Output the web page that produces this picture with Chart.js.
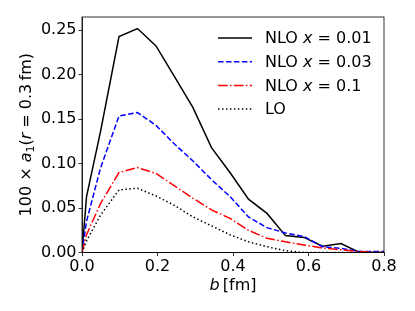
<!DOCTYPE html>
<html><head><meta charset="utf-8">
<style>html,body{margin:0;padding:0;background:#fff}canvas{display:block}</style>
<script src="https://cdn.jsdelivr.net/npm/chart.js@4/dist/chart.umd.min.js"></script>
</head><body>
<canvas id="c" width="415" height="311"></canvas>
<script>
// b [fm] values
const bValues = [0, 0.012, 0.049, 0.098, 0.147, 0.196, 0.245, 0.294, 0.343, 0.392, 0.441, 0.490, 0.539, 0.588, 0.637, 0.686, 0.735, 0.784, 0.833];
const nloX001 = [0, 0.063, 0.136, 0.243, 0.252, 0.2325, 0.198, 0.163, 0.118, 0.090, 0.060, 0.044, 0.019, 0.017, 0.007, 0.010, 0.000, 0.000, 0.000];
const nloX003 = [0, 0.035, 0.095, 0.1535, 0.1575, 0.143, 0.122, 0.103, 0.082, 0.063, 0.040, 0.028, 0.022, 0.018, 0.0065, 0.0047, 0.001, 0.001, 0.001];
const nloX01  = [0, 0.020, 0.055, 0.090, 0.0955, 0.089, 0.075, 0.061, 0.048, 0.0385, 0.025, 0.016, 0.012, 0.0085, 0.005, 0.003, 0.001, 0.000, 0.000];
const loVals  = [0, 0.013, 0.042, 0.0705, 0.0723, 0.0636, 0.053, 0.040, 0.030, 0.020, 0.012, 0.0065, 0.002, 0.000, 0.000, 0.000, 0.000, 0.000, 0.000];
const xTicks = [0, 0.2, 0.4, 0.6, 0.8];
const yTicks = [0, 0.05, 0.10, 0.15, 0.20, 0.25];

const seriesLabels = [
  [{t:'NLO '},{t:'x',i:true},{t:' = 0.01'}],
  [{t:'NLO '},{t:'x',i:true},{t:' = 0.03'}],
  [{t:'NLO '},{t:'x',i:true},{t:' = 0.1'}],
  [{t:'LO'}]
];
const styles = [
  {color:'#000000', dash:[]},
  {color:'#0000ff', dash:[5.55,2.4]},
  {color:'#ff0000', dash:[9.6,2.4,1.5,2.4]},
  {color:'#000000', dash:[1.5,2.475]}
];
const allSeries = [nloX001, nloX003, nloX01, loVals];

const FONT = 'DejaVu Sans';
const FS = 16;

function drawRuns(ctx, runs, x, y, align) {
  const widths = runs.map(r => {
    ctx.font = (r.i ? 'italic ' : '') + (r.sub ? 11 : FS) + 'px "' + FONT + '"';
    return ctx.measureText(r.t).width;
  });
  const total = widths.reduce((a,b)=>a+b,0);
  let cx = align === 'center' ? x - total/2 : x;
  runs.forEach((r, k) => {
    ctx.font = (r.i ? 'italic ' : '') + (r.sub ? 11 : FS) + 'px "' + FONT + '"';
    ctx.fillText(r.t, cx, y + (r.sub ? 4 : 0));
    cx += widths[k];
  });
}

const decor = {
  id: 'decor',
  afterDraw(chart) {
    const ctx = chart.ctx, a = chart.chartArea;
    ctx.save();
    ctx.strokeStyle = '#000'; ctx.lineWidth = 0.8; ctx.setLineDash([]);
    ctx.strokeRect(a.left, a.top, a.right - a.left, a.bottom - a.top);
    ctx.fillStyle = '#000';
    ctx.textBaseline = 'middle';
    ctx.textAlign = 'left';
    const lx0 = 218, lx1 = 252, tx = 265, y0 = 38, dy = 23.7;
    for (let k = 0; k < 4; k++) {
      const y = y0 + k*dy;
      ctx.strokeStyle = styles[k].color; ctx.lineWidth = 1.5; ctx.setLineDash(styles[k].dash);
      ctx.beginPath(); ctx.moveTo(lx0, y); ctx.lineTo(lx1, y); ctx.stroke();
      ctx.setLineDash([]);
      drawRuns(ctx, seriesLabels[k], tx, y + 1, 'left');
    }
    const xc = (a.left + a.right)/2;
    drawRuns(ctx, [{t:'b',i:true},{t:'\u2009[fm]'}], xc, 286, 'center');
    ctx.translate(27, (a.top + a.bottom)/2);
    ctx.rotate(-Math.PI/2);
    drawRuns(ctx, [{t:'100 × '},{t:'a',i:true},{t:'1',sub:true},{t:'('},{t:'r',i:true},{t:' = 0.3\u2009fm)'}], 0, 0, 'center');
    ctx.restore();
  }
};

const datasets = allSeries.map((vals, k) => ({
  label: seriesLabels[k].map(r => r.t).join(''),
  data: bValues.map((b, j) => ({x: b, y: vals[j]})),
  borderColor: styles[k].color,
  borderDash: styles[k].dash,
  borderWidth: 1.5,
  pointRadius: 0,
  tension: 0,
  fill: false,
  order: 4 - k
}));

new Chart(document.getElementById('c'), {
  type: 'line',
  data: { datasets },
  plugins: [decor],
  options: {
    responsive: false,
    animation: false,
    layout: { padding: { top: 17, right: 31, left: 0, bottom: 0 } },
    plugins: { legend: { display: false }, tooltip: { enabled: false } },
    scales: {
      x: {
        type: 'linear', min: 0, max: 0.8,
        afterBuildTicks: s => { s.ticks = xTicks.map(v => ({value: v})); },
        ticks: { callback: v => v.toFixed(1), color: '#000', font: { size: FS, family: FONT }, padding: 1, maxRotation: 0 },
        grid: { drawOnChartArea: false, drawTicks: true, tickLength: 3.5, tickWidth: 0.8, tickColor: '#000' },
        border: { display: true, color: '#000', width: 0.8 },
        afterFit: s => { s.height = 58.5; }
      },
      y: {
        type: 'linear', min: 0, max: 0.265,
        afterBuildTicks: s => { s.ticks = yTicks.map(v => ({value: v})); },
        ticks: { callback: v => v.toFixed(2), color: '#000', font: { size: FS, family: FONT }, padding: 2 },
        grid: { drawOnChartArea: false, drawTicks: true, tickLength: 3.5, tickWidth: 0.8, tickColor: '#000' },
        border: { display: true, color: '#000', width: 0.8 },
        afterFit: s => { s.width = 82; }
      }
    }
  }
});
</script>
</body></html>
